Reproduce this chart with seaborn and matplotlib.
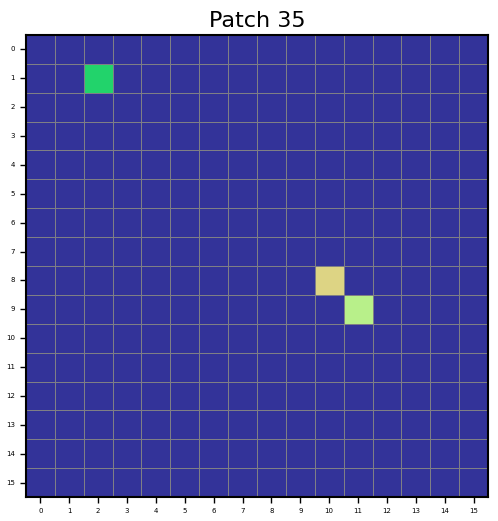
import numpy as np
import matplotlib
matplotlib.use("Agg")
import matplotlib.pyplot as plt
import seaborn as sns
from matplotlib.colors import ListedColormap

n = 16
# categorical cells: (row, col, class)
cell_rows = [1, 8, 9]
cell_cols = [2, 10, 11]
cell_classes = [1, 2, 3]
palette = ["#333399", "#22d36b", "#ddd484", "#b8f08a"]
tick_labels = [str(i) for i in range(n)]

grid = np.zeros((n, n))
for r, c, k in zip(cell_rows, cell_cols, cell_classes):
    grid[r, c] = k

fig = plt.figure(figsize=(4.98, 5.21), dpi=100)
ax = fig.add_axes([0.052, 0.046, 0.928, 0.887])
sns.heatmap(grid, cmap=ListedColormap(palette), vmin=-0.5, vmax=3.5, cbar=False,
            linewidths=0.6, linecolor="#7f7f85", square=False, ax=ax)
ax.set_xticks(np.arange(n) + 0.5)
ax.set_xticklabels(tick_labels, fontsize=5, rotation=0)
ax.set_yticks(np.arange(n) + 0.5)
ax.set_yticklabels(tick_labels, fontsize=5, rotation=0)
ax.tick_params(length=4, width=1, color="black", pad=4)
for s in ax.spines.values():
    s.set_visible(True)
    s.set_linewidth(1.5)
    s.set_color("black")
ax.set_title("Patch 35", fontsize=16)
fig.savefig("out.png", dpi=100)
